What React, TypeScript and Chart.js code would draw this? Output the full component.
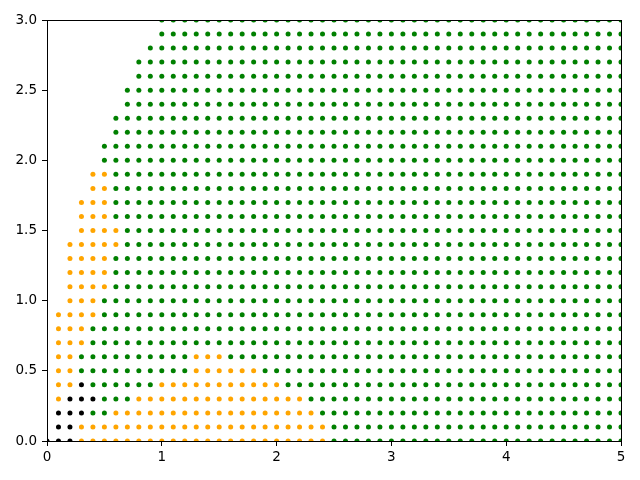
import React, { useEffect, useRef } from "react";
import { Chart, registerables } from "chart.js";

Chart.register(...registerables);

// Grid coordinates
const xValues = [
  0.0, 0.1, 0.2, 0.3, 0.4, 0.5, 0.6, 0.7, 0.8, 0.9,
  1.0, 1.1, 1.2, 1.3, 1.4, 1.5, 1.6, 1.7, 1.8, 1.9,
  2.0, 2.1, 2.2, 2.3, 2.4, 2.5, 2.6, 2.7, 2.8, 2.9,
  3.0, 3.1, 3.2, 3.3, 3.4, 3.5, 3.6, 3.7, 3.8, 3.9,
  4.0, 4.1, 4.2, 4.3, 4.4, 4.5, 4.6, 4.7, 4.8, 4.9,
  5.0,
];
const yValues = [
  0.0, 0.1, 0.2, 0.3, 0.4, 0.5, 0.6, 0.7, 0.8, 0.9,
  1.0, 1.1, 1.2, 1.3, 1.4, 1.5, 1.6, 1.7, 1.8, 1.9,
  2.0, 2.1, 2.2, 2.3, 2.4, 2.5, 2.6, 2.7, 2.8, 2.9,
  3.0,
];

// Per row (y), run-length class of each grid point along x:
// "." = no point, "k" = black, "o" = orange, "g" = green
const rowRuns = [
  "k3 o22 g26",            // 0.0
  ".1 k2 o22 g26",         // 0.1
  ".1 k3 g2 o18 g27",      // 0.2
  ".1 o1 k3 g3 o15 g28",   // 0.3
  ".1 o2 k1 g6 o11 g30",   // 0.4
  ".1 o2 g10 o6 g32",      // 0.5
  ".1 o2 g10 o3 g35",      // 0.6
  ".1 o3 g47",             // 0.7
  ".1 o3 g47",             // 0.8
  ".1 o4 g46",             // 0.9
  ".2 o3 g46",             // 1.0
  ".2 o4 g45",             // 1.1
  ".2 o4 g45",             // 1.2
  ".2 o4 g45",             // 1.3
  ".2 o5 g44",             // 1.4
  ".3 o4 g44",             // 1.5
  ".3 o3 g45",             // 1.6
  ".3 o3 g45",             // 1.7
  ".4 o2 g45",             // 1.8
  ".4 o2 g45",             // 1.9
  ".5 g46",                // 2.0
  ".5 g46",                // 2.1
  ".6 g45",                // 2.2
  ".6 g45",                // 2.3
  ".7 g44",                // 2.4
  ".7 g44",                // 2.5
  ".8 g43",                // 2.6
  ".8 g43",                // 2.7
  ".9 g42",                // 2.8
  ".10 g41",               // 2.9
  ".10 g41",               // 3.0
];

const classNames = ["g", "o", "k"];
const classColors = ["#008000", "#ffa500", "#000000"];

const xTicks = [0, 1, 2, 3, 4, 5];
const xTickLabels = ["0", "1", "2", "3", "4", "5"];
const yTicks = [0, 0.5, 1.0, 1.5, 2.0, 2.5, 3.0];
const yTickLabels = ["0.0", "0.5", "1.0", "1.5", "2.0", "2.5", "3.0"];

function buildPoints() {
  const groups: Record<string, { x: number; y: number }[]> = { g: [], o: [], k: [] };
  rowRuns.forEach((row, i) => {
    let col = 0;
    row.split(" ").forEach((tok) => {
      const c = tok[0];
      const n = parseInt(tok.slice(1), 10);
      for (let j = 0; j < n; j++) {
        if (c !== ".") groups[c].push({ x: xValues[col], y: yValues[i] });
        col++;
      }
    });
  });
  return groups;
}

const framePlugin = {
  id: "frame",
  afterDraw(chart: any) {
    const { ctx, chartArea } = chart;
    ctx.save();
    ctx.strokeStyle = "#000";
    ctx.lineWidth = 1;
    ctx.strokeRect(
      Math.round(chartArea.left) + 0.5,
      Math.round(chartArea.top) + 0.5,
      Math.round(chartArea.right - chartArea.left),
      Math.round(chartArea.bottom - chartArea.top)
    );
    ctx.restore();
  },
};

export default function App() {
  const ref = useRef<HTMLCanvasElement | null>(null);

  useEffect(() => {
    const groups = buildPoints();
    const font = { family: "DejaVu Sans", size: 13.5 };
    const chart = new Chart(ref.current as HTMLCanvasElement, {
      type: "scatter",
      data: {
        datasets: classNames.map((c, i) => ({
          label: c,
          data: groups[c],
          backgroundColor: classColors[i],
          borderWidth: 0,
          pointRadius: 2.5,
          pointHoverRadius: 2.5,
          clip: 0,
        })),
      },
      options: {
        animation: false,
        responsive: false,
        events: [],
        layout: { padding: { left: 0, top: 20, right: 19, bottom: 0 } },
        plugins: { legend: { display: false }, tooltip: { enabled: false } },
        scales: {
          x: {
            type: "linear",
            min: 0,
            max: 5,
            afterFit: (s: any) => {
              s.height = 39;
            },
            afterBuildTicks: (s: any) => {
              s.ticks = xTicks.map((v) => ({ value: v }));
            },
            ticks: {
              callback: (_v: any, i: number) => xTickLabels[i],
              color: "#000",
              font,
              padding: 3,
              maxRotation: 0,
            },
            grid: {
              drawOnChartArea: false,
              drawTicks: true,
              tickLength: 5,
              tickColor: "#000",
              tickWidth: 1,
            },
            border: { display: false },
          },
          y: {
            type: "linear",
            min: 0,
            max: 3,
            afterFit: (s: any) => {
              s.width = 47;
            },
            afterBuildTicks: (s: any) => {
              s.ticks = yTicks.map((v) => ({ value: v }));
            },
            ticks: {
              callback: (_v: any, i: number) => yTickLabels[i],
              color: "#000",
              font,
              padding: 5,
            },
            grid: {
              drawOnChartArea: false,
              drawTicks: true,
              tickLength: 5,
              tickColor: "#000",
              tickWidth: 1,
            },
            border: { display: false },
          },
        },
      },
      plugins: [framePlugin],
    });
    return () => chart.destroy();
  }, []);

  return (
    <div style={{ position: "fixed", left: 0, top: 0, width: 640, height: 480, background: "#fff" }}>
      <canvas ref={ref} width={640} height={480} style={{ display: "block" }} />
    </div>
  );
}
